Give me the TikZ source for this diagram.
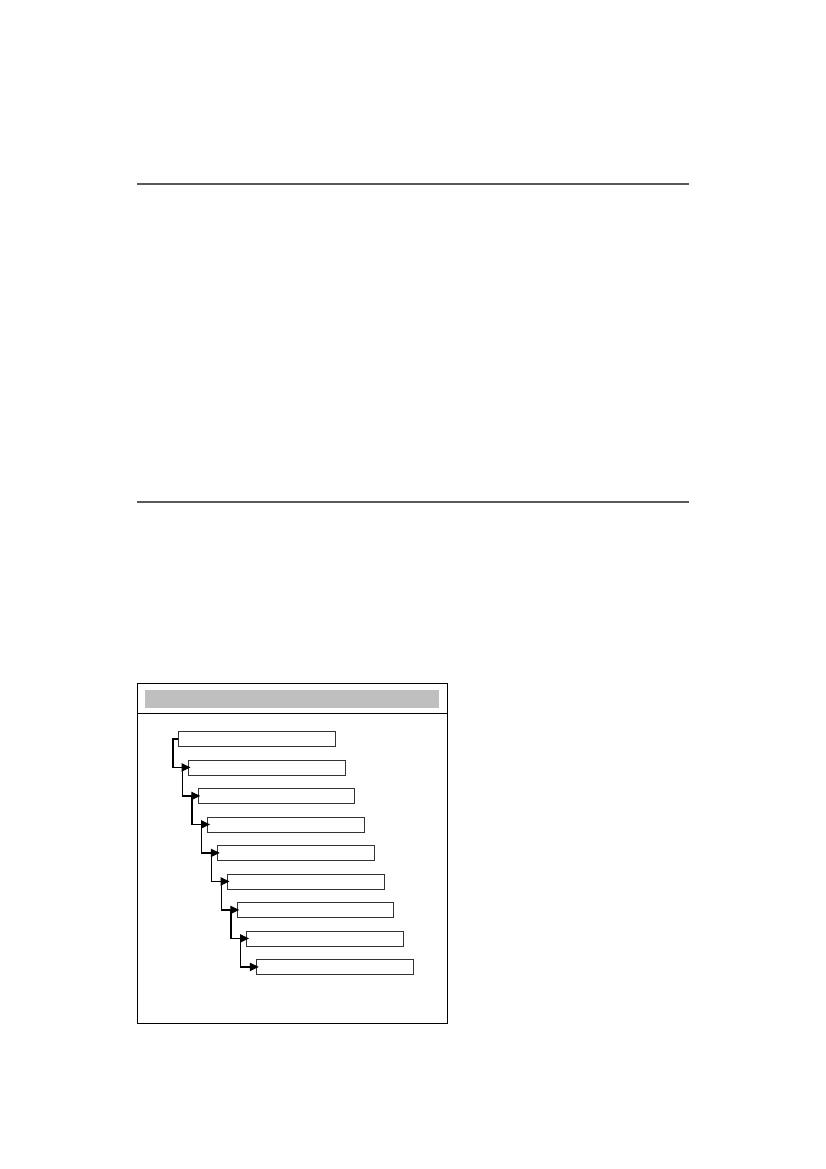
\documentclass[tikz,border=0pt]{standalone}
\usepackage{tikz}
\usetikzlibrary{arrows.meta, positioning}

\tikzset{
  stepbox/.style={draw=black!80, line width=0.6pt, rectangle, anchor=north west,
    minimum width=113pt, minimum height=10.8pt, inner sep=0pt},
  flow/.style={line width=0.9pt, -{Triangle[length=6.5pt,width=6pt]}, shorten >=-2pt},
  rule/.style={line width=1pt, draw=black!65}
}

\begin{document}
\begin{tikzpicture}[x=0.72pt,y=-0.72pt]
				\useasboundingbox (0,0) rectangle (826,1169);

				% Page rules
				\draw[rule] (137,184) -- (689,184);
				\draw[rule] (137,502) -- (689,502);

				% Frame and header
				\draw[line width=0.7pt] (137,683) rectangle (447,1023);
				\draw[line width=0.7pt] (137,713) -- (447,713);
				\fill[black!25] (145,690) rectangle (439,708);

				% Steps
				\node[stepbox] (s1) at (178,731) {};
				\node[stepbox] (s2) at (187.75,759.5) {};
				\node[stepbox] (s3) at (197.5,788) {};
				\node[stepbox] (s4) at (207.25,816.5) {};
				\node[stepbox] (s5) at (217,845) {};
				\node[stepbox] (s6) at (226.75,873.5) {};
				\node[stepbox] (s7) at (236.5,902) {};
				\node[stepbox] (s8) at (246.25,930.5) {};
				\node[stepbox] (s9) at (256,959) {};

				% Links between steps
				\draw[flow] (s1.west) -- ++(-5,0) |- (s2.west);
				\draw[flow] (s2.west) ++(-5.5,0) |- (s3.west);
				\draw[flow] (s3.west) ++(-5.5,0) |- (s4.west);
				\draw[flow] (s4.west) ++(-5.5,0) |- (s5.west);
				\draw[flow] (s5.west) ++(-5.5,0) |- (s6.west);
				\draw[flow] (s6.west) ++(-5.5,0) |- (s7.west);
				\draw[flow] (s7.west) ++(-5.5,0) |- (s8.west);
				\draw[flow] (s8.west) ++(-5.5,0) |- (s9.west);
\end{tikzpicture}
\end{document}
